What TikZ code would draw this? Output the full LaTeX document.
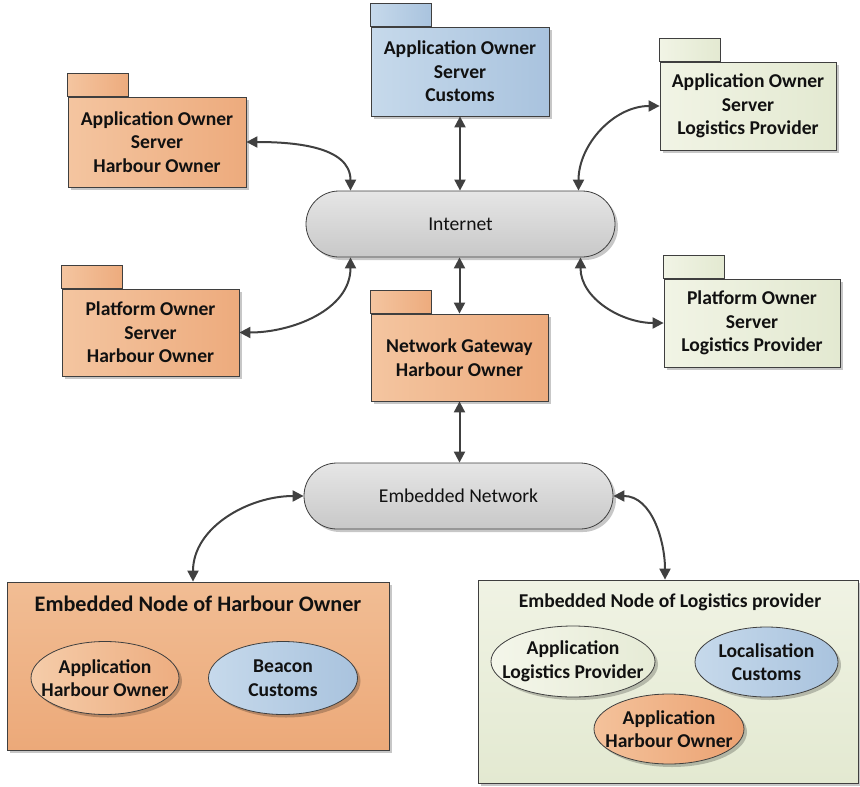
\documentclass[tikz,border=0pt]{standalone}
\usepackage{fontspec}
\setmainfont{Carlito}
\usetikzlibrary{arrows.meta,shadows,shapes.geometric}
\pgfdeclarelayer{bg}
\pgfsetlayers{bg,main}

\definecolor{linec}{HTML}{3F3F3F}
\definecolor{arrowc}{HTML}{404040}
\definecolor{txtc}{HTML}{111111}
\definecolor{orL}{HTML}{F4C5A0}
\definecolor{orR}{HTML}{EDAB7D}
\definecolor{blL}{HTML}{C6D9EB}
\definecolor{blR}{HTML}{A9C3DE}
\definecolor{grL}{HTML}{F1F4E5}
\definecolor{grR}{HTML}{E3E9D1}
\definecolor{gyT}{HTML}{E6E6E6}
\definecolor{gyB}{HTML}{C8C8C8}
\definecolor{ehT}{HTML}{F1BD94}
\definecolor{ehB}{HTML}{ECA979}
\definecolor{elT}{HTML}{F0F3E4}
\definecolor{elB}{HTML}{E3E9D1}
\definecolor{eoL}{HTML}{F5CCA9}
\definecolor{eoR}{HTML}{EDAD80}
\definecolor{egL}{HTML}{F4F6EA}
\definecolor{egR}{HTML}{E6EBD6}
\definecolor{esL}{HTML}{F4C29B}
\definecolor{esR}{HTML}{EBA272}

\begin{document}
\begin{tikzpicture}[x=1pt,y=1pt,
  every node/.style={inner sep=0pt, text=txtc},
  lbl/.style={font=\fontsize{19.6}{23.5}\selectfont\bfseries, align=center},
  box/.style={draw=linec, line width=0.8pt,
    drop shadow={shadow xshift=3pt, shadow yshift=-3pt, fill=black, opacity=0.22}},
  pkg/.style={box, rectangle, lbl},
  tab/.style={draw=linec, line width=0.8pt},
  orange/.style={left color=orL, right color=orR},
  blue/.style={left color=blL, right color=blR},
  green/.style={left color=grL, right color=grR},
  pill/.style={box, rectangle, rounded corners=33pt, minimum width=309pt, minimum height=66pt,
    top color=gyT, bottom color=gyB, font=\fontsize{19.6}{23.5}\selectfont},
  ell/.style={box, ellipse},
  conn/.style={draw=arrowc, line width=2pt,
    {Triangle[width=11pt,length=11pt]}-{Triangle[width=11pt,length=11pt]}},
]
\useasboundingbox (0,0) rectangle (860,-787);

% servers and gateway (package bodies)
\node[pkg, orange, minimum width=178pt, minimum height=90pt] (aoh) at (157,-142)
  {Application Owner\\Server\\Harbour Owner};
\node[pkg, blue, minimum width=178pt, minimum height=89pt] (aoc) at (460,-71.5)
  {Application Owner\\Server\\Customs};
\node[pkg, green, minimum width=176pt, minimum height=88pt] (aol) at (748,-106)
  {Application Owner\\Server\\Logistics Provider};
\node[pkg, orange, minimum width=177pt, minimum height=87pt] (poh) at (150.5,-332.5)
  {Platform Owner\\Server\\Harbour Owner};
\node[pkg, orange, minimum width=177pt, minimum height=87pt] (ngw) at (459.5,-357.5)
  {Network Gateway\\Harbour Owner};
\node[pkg, green, minimum width=176pt, minimum height=88pt] (pol) at (752,-323)
  {Platform Owner\\Server\\Logistics Provider};

% package tabs, behind the bodies
\begin{pgfonlayer}{bg}
  \foreach \p/\c in {aoh/orange, aoc/blue, aol/green, poh/orange, ngw/orange, pol/green}
    \draw[tab, \c] (\p.north west) rectangle ++(61,23);
\end{pgfonlayer}

% networks
\node[pill] (inet) at (460.5,-224) {Internet};
\node[pill] (enet) at (458.5,-496) {Embedded Network};

% embedded nodes
\node[box, rectangle, top color=ehT, bottom color=ehB, minimum width=382pt, minimum height=168pt]
  (eh) at (198,-666) {};
\node[lbl, font=\fontsize{22.2}{26}\selectfont\bfseries] (eht) at (198,-604) {Embedded Node of Harbour Owner};
\node[box, rectangle, top color=elT, bottom color=elB, minimum width=380pt, minimum height=203pt]
  (el) at (668,-681.5) {};
\node[lbl] (elt) at (670,-602) {Embedded Node of Logistics provider};

% applications inside the embedded nodes
\node[ell, left color=eoL, right color=eoR, minimum width=148pt, minimum height=73pt] (e1) at (105,-678) {};
\node[lbl] (e1t) at (e1.center) {Application\\Harbour Owner};
\node[ell, blue, minimum width=149pt, minimum height=73pt] (e2) at (283,-678) {};
\node[lbl] (e2t) at (e2.center) {Beacon\\Customs};
\node[ell, left color=egL, right color=egR, minimum width=164pt, minimum height=71pt] (e3) at (573,-661.5) {};
\node[lbl] (e3t) at (e3.center) {Application\\Logistics Provider};
\node[ell, blue, minimum width=143pt, minimum height=70pt] (e4) at (766.5,-662) {};
\node[lbl] (e4t) at (e4.center) {Localisation\\Customs};
\node[ell, left color=esL, right color=esR, minimum width=150pt, minimum height=70pt] (e5) at (669,-729) {};
\node[lbl] (e5t) at (e5.center) {Application\\Harbour Owner};

% links
\draw[conn] (aoh.east) to[out=0, in=90] ([xshift=-110pt]inet.north);
\draw[conn] (aoc.south) -- (aoc.south |- inet.north);
\draw[conn] (aol.west) to[out=180, in=90] ([xshift=118pt]inet.north);
\draw[conn] (poh.east) to[out=0, in=-90] ([xshift=-110pt]inet.south);
\draw[conn] (ngw.north) -- (ngw.north |- inet.south);
\draw[conn] (pol.west) to[out=180, in=-90] ([xshift=120pt]inet.south);
\draw[conn] (ngw.south) -- (ngw.south |- enet.north);
\draw[conn] (enet.west) to[out=180, in=90] ([xshift=-5pt]eh.north);
\draw[conn] (enet.east) to[out=0, in=90] ([xshift=-3pt]el.north);
\end{tikzpicture}
\end{document}
